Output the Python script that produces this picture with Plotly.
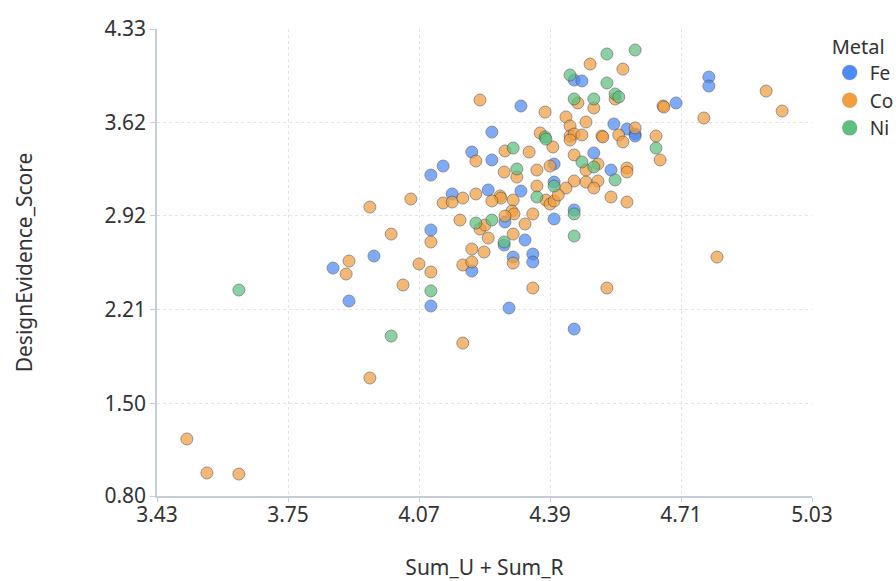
import plotly.graph_objects as go

# Sum_U + Sum_R (x) and DesignEvidence_Score (y) per metal
fe_x = [3.860, 3.960, 3.899, 4.099, 4.199, 4.290, 4.449, 4.348, 4.348, 4.300,
        4.278, 4.329, 4.248, 4.199, 4.248, 4.129, 4.099, 4.151, 4.239, 4.099,
        4.449, 4.468, 4.778, 4.778, 4.698, 4.319, 4.546, 4.578, 4.598, 4.598,
        4.497, 4.539, 4.400, 4.400, 4.319, 4.449, 4.400, 4.280]
fe_y = [2.523, 2.614, 2.274, 2.236, 2.501, 2.221, 2.062, 2.629, 2.569, 2.606,
        2.697, 2.735, 3.551, 3.400, 3.340, 3.294, 3.226, 3.083, 3.113, 2.811,
        3.944, 3.937, 3.967, 3.899, 3.771, 3.748, 3.612, 3.574, 3.536, 3.521,
        3.393, 3.264, 3.309, 3.173, 3.105, 2.962, 2.894, 2.871]

co_x = [3.503, 3.552, 3.630, 3.899, 3.892, 4.031, 3.950, 4.070, 4.099, 4.099,
        4.177, 4.199, 4.199, 4.229, 4.177, 4.798, 4.529, 4.348, 4.300, 4.219,
        4.209, 4.050, 4.129, 4.151, 4.177, 4.209, 3.950, 4.170, 4.219, 4.231,
        4.002, 4.239, 4.488, 4.568, 4.918, 4.957, 4.766, 4.666, 4.668, 4.378,
        4.458, 4.497, 4.549, 4.429, 4.439, 4.478, 4.598, 4.366, 4.439, 4.449,
        4.439, 4.468, 4.517, 4.519, 4.558, 4.568, 4.649, 4.659, 4.280, 4.339,
        4.397, 4.449, 4.507, 4.478, 4.578, 4.578, 4.449, 4.478, 4.507, 4.497,
        4.539, 4.578, 4.429, 4.358, 4.380, 4.390, 4.400, 4.410, 4.390, 4.358,
        4.309, 4.278, 4.300, 4.268, 4.270, 4.248, 4.348, 4.329, 4.297, 4.302,
        4.280, 4.300]
co_y = [1.231, 0.974, 0.966, 2.576, 2.478, 2.395, 1.692, 2.554, 2.493, 2.720,
        2.546, 2.569, 2.667, 2.644, 1.956, 2.606, 2.372, 2.372, 2.561, 3.793,
        3.332, 3.045, 3.015, 3.022, 3.052, 3.083, 2.984, 2.886, 2.818, 2.848,
        2.780, 2.750, 4.065, 4.027, 3.861, 3.710, 3.657, 3.748, 3.740, 3.702,
        3.771, 3.733, 3.801, 3.665, 3.597, 3.627, 3.582, 3.544, 3.521, 3.536,
        3.491, 3.529, 3.521, 3.514, 3.529, 3.476, 3.521, 3.340, 3.408, 3.400,
        3.438, 3.378, 3.309, 3.264, 3.279, 3.249, 3.181, 3.173, 3.181, 3.128,
        3.060, 3.022, 3.128, 3.143, 3.037, 3.007, 3.030, 3.075, 3.294, 3.264,
        3.211, 3.249, 3.037, 3.068, 3.052, 3.030, 2.932, 2.856, 2.954, 2.932,
        2.916, 2.780]

ni_x = [3.630, 4.002, 4.099, 4.278, 4.449, 4.209, 4.598, 4.529, 4.439, 4.529,
        4.449, 4.497, 4.549, 4.558, 4.378, 4.380, 4.649, 4.300, 4.468, 4.497,
        4.549, 4.400, 4.358, 4.309, 4.449, 4.248]
ni_y = [2.357, 2.009, 2.350, 2.720, 2.765, 2.863, 4.171, 4.141, 3.982, 3.922,
        3.801, 3.801, 3.839, 3.816, 3.514, 3.498, 3.430, 3.430, 3.325, 3.287,
        3.189, 3.143, 3.060, 3.272, 2.932, 2.886]

metals = ["Fe", "Co", "Ni"]
colors = ["#4d8bf8", "#f29e3f", "#5ec07e"]
series_x = [fe_x, co_x, ni_x]
series_y = [fe_y, co_y, ni_y]

x_ticks = [3.43, 3.75, 4.07, 4.39, 4.71, 5.03]
y_ticks = [0.80, 1.50, 2.21, 2.92, 3.62, 4.33]

FONT = "Noto Sans, Open Sans, sans-serif"
TEXT_COLOR = "#333333"
AXIS_COLOR = "#c5ced8"
GRID_COLOR = "#e4e4e4"

fig = go.Figure()

for name, col, xs, ys in zip(metals, colors, series_x, series_y):
    fig.add_trace(go.Scatter(
        x=xs, y=ys, mode="markers", name=name, legendgroup=name,
        showlegend=False,
        marker=dict(size=12, color=col, opacity=0.72,
                    line=dict(color="rgba(70,70,70,0.75)", width=1)),
    ))

# legend entries drawn at full strength
for name, col in zip(metals, colors):
    fig.add_trace(go.Scatter(
        x=[None], y=[None], mode="markers", name=name, legendgroup=name,
        marker=dict(size=15, color=col, line=dict(color="rgba(120,120,120,0.4)", width=0.5)),
    ))

fig.update_layout(
    width=896, height=581,
    margin=dict(l=157, r=84, t=29, b=85, autoexpand=False),
    paper_bgcolor="white", plot_bgcolor="white",
    font=dict(family=FONT, size=21, color=TEXT_COLOR),
    legend=dict(
        title=dict(text="Metal", font=dict(size=20, color=TEXT_COLOR)),
        x=1.027, xanchor="left", y=1.003, yanchor="top",
        font=dict(size=19, color=TEXT_COLOR),
        bgcolor="rgba(0,0,0,0)", itemsizing="trace", tracegroupgap=0,
    ),
    showlegend=True,
)

fig.update_xaxes(
    range=[3.43, 5.03], tickvals=x_ticks, ticktext=[f"{v:.2f}" for v in x_ticks],
    showline=True, linecolor=AXIS_COLOR, linewidth=1.5,
    ticks="outside", ticklen=4, tickcolor=AXIS_COLOR,
    tickfont=dict(size=21), ticklabelstandoff=-5,
    showgrid=True, gridcolor=GRID_COLOR, griddash="dot", gridwidth=1,
    zeroline=False, automargin=False,
    title=dict(text="Sum_U + Sum_R", standoff=33, font=dict(size=21)),
)
fig.update_yaxes(
    range=[0.80, 4.33], tickvals=y_ticks, ticktext=[f"{v:.2f}" for v in y_ticks],
    showline=True, linecolor=AXIS_COLOR, linewidth=1.5,
    ticks="outside", ticklen=5, tickcolor=AXIS_COLOR,
    tickfont=dict(size=21),
    showgrid=True, gridcolor=GRID_COLOR, griddash="dot", gridwidth=1,
    zeroline=False, automargin=False,
    title=dict(text="DesignEvidence_Score", standoff=66, font=dict(size=21)),
)

fig.write_html("out.html")
